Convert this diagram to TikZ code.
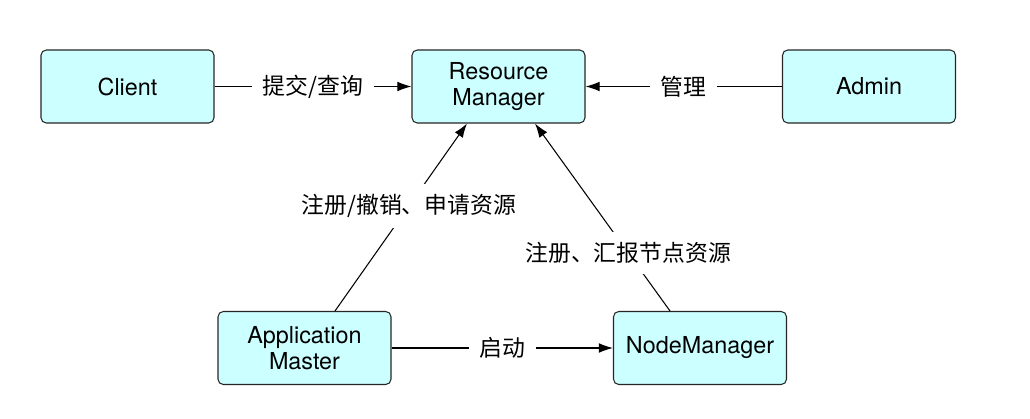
\documentclass[tikz,border=0pt]{standalone}
\usepackage{fontspec}
\setmainfont{TeX Gyre Heros}
\newfontfamily\cjk{Noto Sans CJK SC}
\usetikzlibrary{arrows.meta}
\usepackage{xcolor}
\definecolor{boxcyan}{RGB}{204,255,255}
\newcommand{\lbl}[1]{{\cjk\fontsize{13}{15}\selectfont #1}}

\begin{document}
\begin{tikzpicture}[
        box/.style={draw=black!85, fill=boxcyan, rounded corners=3pt, line width=0.6pt, minimum width=3.46cm, minimum height=1.46cm, align=center, font=\fontsize{13.3}{14.8}\selectfont},
        link/.style={-{Latex[length=8pt,width=5.5pt]}, line width=0.6pt},
        tag/.style={fill=white, inner xsep=6pt, inner ysep=6pt}
    ]
        \useasboundingbox (0,0) rectangle (20.6,8.36);

        % boxes
        \node[box] (client) at (2.55,6.63) {Client};
        \node[box] (rm) at (9.97,6.63) {Resource\\Manager};
        \node[box] (admin) at (17.38,6.63) {Admin};
        \node[box] (am) at (6.09,1.40) {Application\\Master};
        \node[box] (nm) at (14.0,1.40) {NodeManager};

        % links
        \draw[link] (client) -- node[tag] {\lbl{提交/查询}} (rm);
        \draw[link] (admin) -- node[tag] {\lbl{管理}} (rm);
        \draw[link] (am) -- node[tag] {\lbl{启动}} (nm);

        \draw[link] ([xshift=0.61cm]am.north) -- node[tag, pos=0.56] {\lbl{注册/撤销、申请资源}} ([xshift=-0.63cm]rm.south);
        \draw[link] ([xshift=-0.6cm]nm.north) -- node[tag, pos=0.31] {\lbl{注册、汇报节点资源}} ([xshift=0.73cm]rm.south);

    \end{tikzpicture}
\end{document}
